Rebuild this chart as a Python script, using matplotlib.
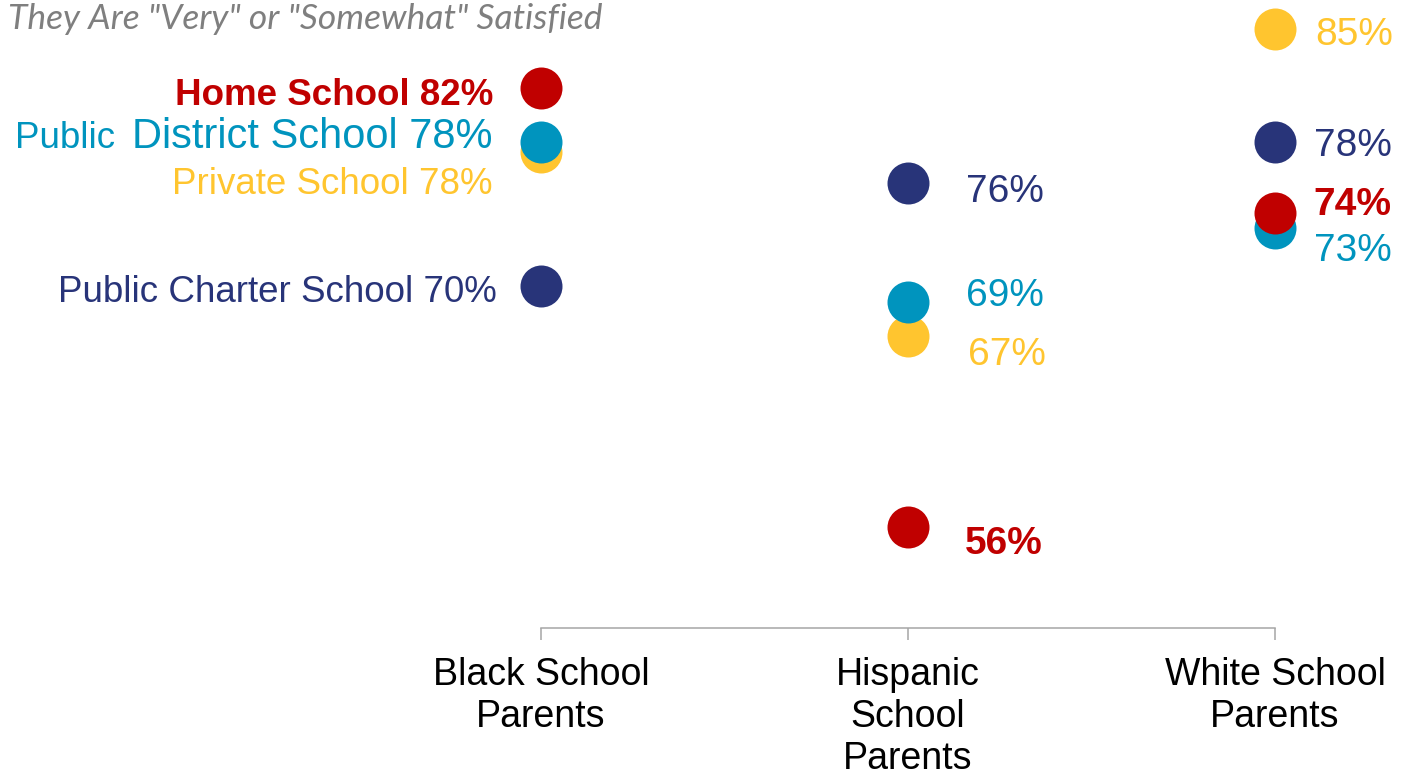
import matplotlib
matplotlib.use("Agg")
import matplotlib.pyplot as plt

# Share of parents who are "very" or "somewhat" satisfied, by school type
groups = ["Black School\nParents", "Hispanic\nSchool\nParents", "White School\nParents"]
home_school = [81.55, 56.0, 74.3]
public_district = [78.4, 69.1, 73.4]
private_school = [77.8, 67.1, 85.0]
public_charter = [70.0, 76.0, 78.4]

names = {
    "private": "Private School",
    "charter": "Public Charter School",
    "district": "District School",
    "home": "Home School",
}

RED = "#C00000"
TEAL = "#0094BE"
NAVY = "#283479"
GOLD = "#FFC52F"
GREY_TXT = "#7F7F7F"
AXIS_GREY = "#A6A6A6"
FONT = "Liberation Sans"

# drawing order: later series sit on top where dots overlap
series = [
    ("private", private_school, GOLD, "normal"),
    ("charter", public_charter, NAVY, "normal"),
    ("district", public_district, TEAL, "normal"),
    ("home", home_school, RED, "bold"),
]

# label offsets (pixels) from each dot, per series and group
offsets = {
    "private": [(-48, -42), (60, -29), (40, -16)],
    "charter": [(-44, -16), (58, -19), (39, -14)],
    "district": [(-48, -6), (58, -4), (39, -33)],
    "home": [(-48, -17), (57, -27), (38, -2)],
}

W, H, DPI = 1401, 774, 100
fig = plt.figure(figsize=(W / DPI, H / DPI), dpi=DPI)
ax = fig.add_axes([0, 146 / H, 1, 628 / H])
ax.set_xlim(-541 / 367, (W - 541) / 367)
ax.set_ylim(50.145, 86.657)

x = list(range(len(groups)))
for key, vals, color, weight in series:
    ax.scatter(x, vals, s=914, color=color, linewidths=0, zorder=3)

district_left = None
for key, vals, color, weight in series:
    for i, v in enumerate(vals):
        dx, dy = offsets[key][i]
        pct = f"{v:.0f}%"
        if i == 0:
            txt = f"{names[key]} {pct}"
            size = 30.0 if key == "district" else 26.5
            ha = "right"
        else:
            txt = pct
            size = 28
            ha = "left"
        t = ax.annotate(txt, xy=(i, v), xytext=(dx, dy), textcoords="offset pixels",
                        ha=ha, va="baseline", color=color, fontsize=size,
                        fontweight=weight, family=FONT, zorder=4)
        if key == "district" and i == 0:
            district_left = (t, v, dy)

# smaller "Public" prefix in front of the district label
t, v, dy = district_left
ax.annotate("Public", xy=(0, v), xycoords=(t, "data"), xytext=(-17, dy),
            textcoords="offset pixels", ha="right", va="baseline", color=TEAL,
            fontsize=26.5, family=FONT, zorder=4)

ax.set_xticks(x)
ax.set_xticklabels(groups, fontsize=27, family=FONT, color="black", linespacing=1.2)
ax.tick_params(axis="x", length=8.6, width=1.1, color=AXIS_GREY, pad=12.5)
ax.set_yticks([])
for side in ("left", "top", "right"):
    ax.spines[side].set_visible(False)
ax.spines["bottom"].set_bounds(0, 2)
ax.spines["bottom"].set_color(AXIS_GREY)
ax.spines["bottom"].set_linewidth(1.1)
ax.patch.set_alpha(0)

fig.text(8 / W, 1 - 29 / H, 'They Are "Very" or "Somewhat" Satisfied',
         fontsize=25.5, style="italic", family="Lato", color=GREY_TXT,
         ha="left", va="baseline")

fig.savefig("out.png", dpi=DPI)
